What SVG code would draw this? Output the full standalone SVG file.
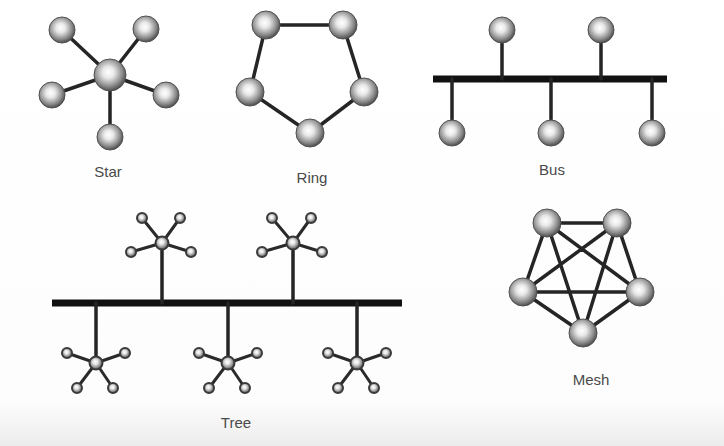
<svg xmlns="http://www.w3.org/2000/svg" width="724" height="446" viewBox="0 0 724 446">
<defs>
<radialGradient id="ball" cx="0.45" cy="0.42" r="0.6">
<stop offset="0" stop-color="#ffffff"/>
<stop offset="0.3" stop-color="#e8e8e8"/>
<stop offset="0.72" stop-color="#8c8c8c"/>
<stop offset="1" stop-color="#454545"/>
</radialGradient>
<linearGradient id="bg" x1="0" y1="0" x2="0" y2="1">
<stop offset="0" stop-color="#ffffff"/>
<stop offset="0.9" stop-color="#fdfdfd"/>
<stop offset="1" stop-color="#ececec"/>
</linearGradient>
</defs>
<style>
.n{fill:url(#ball);stroke:#505050;stroke-width:1}
.s{fill:url(#ball);stroke:#3a3a3a;stroke-width:2}
.e{stroke:#252525;stroke-width:3.5;fill:none;stroke-linecap:round}
.te{stroke:#2a2a2a;stroke-width:3;fill:none}
.bar{stroke:#111;stroke-width:7;fill:none}
.lbl{font-family:"Liberation Sans",Arial,sans-serif;font-size:15px;fill:#4a4a4a;text-anchor:middle}
</style>
<rect x="0" y="0" width="724" height="446" fill="url(#bg)"/>
<g id="connectors">
<path class="e" d="M110 75L62 30M110 75L146 29M110 75L52 95M110 75L166 95M110 75L110 137"/>
<path class="e" d="M266 25L343 25L364 92L310 133L250 92Z"/>
<path class="bar" d="M433 79H667"/>
<path class="e" d="M502 30V79M601 30V79M452 79V133M551 79V133M652 79V133"/>
<path class="bar" d="M52 303H402"/>
<path class="e" d="M162 243V303M293 243V303M96 303V363M228 303V363M357 303V363"/>
<path class="te" d="M162 243L142 218M162 243L180 218M162 243L131 252M162 243L191 252"/>
<path class="te" d="M293 243L272 218M293 243L311 218M293 243L262 252M293 243L322 252"/>
<path class="te" d="M96 363L67 353M96 363L125 353M96 363L77 388M96 363L113 388"/>
<path class="te" d="M228 363L199 353M228 363L257 353M228 363L209 388M228 363L245 388"/>
<path class="te" d="M357 363L328 353M357 363L386 353M357 363L338 388M357 363L374 388"/>
<path class="e" d="M547 223L617 223L640 292L583 333L523 292Z M547 223L640 292M547 223L583 333M617 223L523 292M617 223L583 333M523 292L640 292"/>
</g>
<g id="star">
<circle class="n" cx="62" cy="30" r="13"/>
<circle class="n" cx="146" cy="29" r="13"/>
<circle class="n" cx="52" cy="95" r="13"/>
<circle class="n" cx="166" cy="95" r="13"/>
<circle class="n" cx="110" cy="137" r="13"/>
<circle class="n" cx="110" cy="75" r="16"/>
<text class="lbl" x="108" y="177">Star</text>
</g>
<g id="ring">
<circle class="n" cx="266" cy="25" r="14"/>
<circle class="n" cx="343" cy="25" r="14"/>
<circle class="n" cx="364" cy="92" r="14"/>
<circle class="n" cx="310" cy="133" r="14"/>
<circle class="n" cx="250" cy="92" r="14"/>
<text class="lbl" x="312" y="183">Ring</text>
</g>
<g id="bus">
<circle class="n" cx="502" cy="30" r="13"/>
<circle class="n" cx="601" cy="30" r="13"/>
<circle class="n" cx="452" cy="133" r="13"/>
<circle class="n" cx="551" cy="133" r="13"/>
<circle class="n" cx="652" cy="133" r="13"/>
<text class="lbl" x="552" y="175">Bus</text>
</g>
<g id="tree">
<g id="tree-star-1">
<circle class="s" cx="142" cy="218" r="5"/><circle class="s" cx="180" cy="218" r="5"/>
<circle class="s" cx="131" cy="252" r="5"/><circle class="s" cx="191" cy="252" r="5"/>
<circle class="s" cx="162" cy="243" r="6.5"/>
</g>
<g id="tree-star-2">
<circle class="s" cx="272" cy="218" r="5"/><circle class="s" cx="311" cy="218" r="5"/>
<circle class="s" cx="262" cy="252" r="5"/><circle class="s" cx="322" cy="252" r="5"/>
<circle class="s" cx="293" cy="243" r="6.5"/>
</g>
<g id="tree-star-3">
<circle class="s" cx="67" cy="353" r="5"/><circle class="s" cx="125" cy="353" r="5"/>
<circle class="s" cx="77" cy="388" r="5"/><circle class="s" cx="113" cy="388" r="5"/>
<circle class="s" cx="96" cy="363" r="6.5"/>
</g>
<g id="tree-star-4">
<circle class="s" cx="199" cy="353" r="5"/><circle class="s" cx="257" cy="353" r="5"/>
<circle class="s" cx="209" cy="388" r="5"/><circle class="s" cx="245" cy="388" r="5"/>
<circle class="s" cx="228" cy="363" r="6.5"/>
</g>
<g id="tree-star-5">
<circle class="s" cx="328" cy="353" r="5"/><circle class="s" cx="386" cy="353" r="5"/>
<circle class="s" cx="338" cy="388" r="5"/><circle class="s" cx="374" cy="388" r="5"/>
<circle class="s" cx="357" cy="363" r="6.5"/>
</g>
<text class="lbl" x="236" y="428">Tree</text>
</g>
<g id="mesh">
<circle class="n" cx="547" cy="223" r="14"/>
<circle class="n" cx="617" cy="223" r="14"/>
<circle class="n" cx="640" cy="292" r="14"/>
<circle class="n" cx="583" cy="333" r="14"/>
<circle class="n" cx="523" cy="292" r="14"/>
<text class="lbl" x="591" y="385">Mesh</text>
</g>
</svg>
